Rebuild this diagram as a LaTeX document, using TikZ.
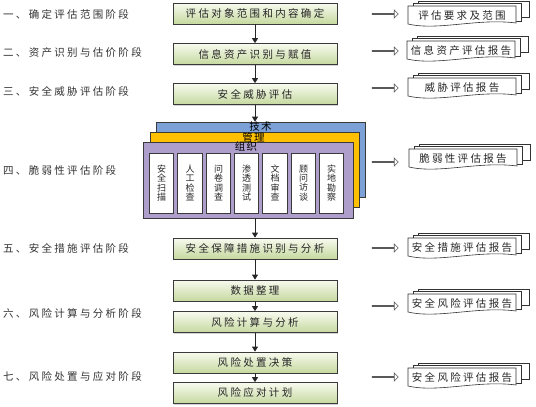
\documentclass[tikz,border=0pt]{standalone}
\usepackage{fontspec}
\setmainfont{Noto Sans CJK SC}
\usetikzlibrary{shapes.arrows,arrows.meta,shadows}

\definecolor{lineg}{HTML}{3A3A3A}
\definecolor{boxtop}{HTML}{F7FAEF}
\definecolor{boxbot}{HTML}{C6D99F}
\definecolor{techblue}{HTML}{7BA1D6}
\definecolor{mgmtorange}{HTML}{FFC000}
\definecolor{orgpurple}{HTML}{AD9ECB}

\newcommand\cnfont[1]{\fontsize{#1}{#1}\selectfont\addfontfeature{LetterSpace=22}}

\tikzset{
  x=1pt, y=-1pt,
  lbl/.style={anchor=west, font=\cnfont{10.5}, text=black!80, inner sep=0pt},
  stepbox/.style={draw=lineg, line width=0.7pt, top color=boxtop, bottom color=boxbot,
    minimum width=164pt, minimum height=21pt, inner sep=0pt, font=\cnfont{10.5},
    text=black!85,
    drop shadow={shadow xshift=1.2pt, shadow yshift=-1.2pt, opacity=0.35}},
  flow/.style={draw=black!85, line width=0.7pt, -{Triangle[length=5pt,width=6pt]}},
  hollow/.style={single arrow, draw=black!65, fill=white, line width=0.6pt,
    minimum height=26pt, minimum width=8pt, single arrow head extend=2.2pt,
    inner sep=0pt},
  layerbox/.style={draw=lineg, line width=0.6pt, inner sep=0pt},
  layerlbl/.style={font=\fontsize{10.5}{10.5}\selectfont\addfontfeature{LetterSpace=10}, inner sep=0pt},
  methodbox/.style={draw=lineg, line width=0.6pt, fill=white, minimum width=24.5pt,
    minimum height=60pt, inner sep=0pt, align=center, font=\fontsize{9}{9.2}\selectfont,
    text=black!85},
  docline/.style={draw=black!80, line width=0.6pt, fill=white},
  doctext/.style={font=\cnfont{10.5}, inner sep=0pt, text=black!85}
}

% name, x, y (top-left of the front page), text
\newcommand\mdoc[4]{%
  \begin{scope}[shift={(#2,#3)}]
    \filldraw[docline] (10,-5) rectangle (121,11);
    \filldraw[docline] (5,-3) rectangle (113,15);
    \filldraw[docline] (0,0) -- (108,0) -- (108,17)
      .. controls (70,12) and (30,25) .. (0,18) -- cycle;
    \node[doctext] (#1) at (54,9.5) {#4};
  \end{scope}}

\begin{document}
\begin{tikzpicture}
\useasboundingbox (0,0) rectangle (536,407);

% stage labels
\node[lbl] (l1) at (3,14)  {一、确定评估范围阶段};
\node[lbl] (l2) at (3,53)  {二、资产识别与估价阶段};
\node[lbl] (l3) at (3,91)  {三、安全威胁评估阶段};
\node[lbl] (l4) at (3,170) {四、脆弱性评估阶段};
\node[lbl] (l5) at (3,248) {五、安全措施评估阶段};
\node[lbl] (l6) at (3,313) {六、风险计算与分析阶段};
\node[lbl] (l7) at (3,377) {七、风险处置与应对阶段};

% main steps
\node[stepbox] (b1) at (255,13.5)  {评估对象范围和内容确定};
\node[stepbox] (b2) at (255,54)    {信息资产识别与赋值};
\node[stepbox] (b3) at (255,94)    {安全威胁评估};
\node[stepbox] (b5) at (255,248.5) {安全保障措施识别与分析};
\node[stepbox] (b6) at (255,290.5) {数据整理};
\node[stepbox] (b7) at (255,322)   {风险计算与分析};
\node[stepbox] (b8) at (255,362.5) {风险处置决策};
\node[stepbox] (b9) at (255,393)   {风险应对计划};

% stacked layers
\node[layerbox, fill=techblue, minimum width=209pt, minimum height=75pt] (tech) at (260.5,159.5) {};
\node[layerlbl] (techl) at (260.5,126.5) {技术};
\node[layerbox, fill=mgmtorange, minimum width=209pt, minimum height=75pt] (mgmt) at (254.5,169.5) {};
\node[layerlbl] (mgmtl) at (253.5,137) {管理};
\node[layerbox, fill=orgpurple, minimum width=210pt, minimum height=76pt] (org) at (248,180) {};
\node[layerlbl] (orgl) at (246,147) {组织};

\node[methodbox] (m1) at (161.5,183) {安\\全\\扫\\描};
\node[methodbox] (m2) at (190,183)   {人\\工\\检\\查};
\node[methodbox] (m3) at (218.5,183) {问\\卷\\调\\查};
\node[methodbox] (m4) at (246.5,183) {渗\\透\\测\\试};
\node[methodbox] (m5) at (275,183)   {文\\档\\审\\查};
\node[methodbox] (m6) at (303.5,183) {顾\\问\\访\\谈};
\node[methodbox] (m7) at (331.5,183) {实\\地\\勘\\察};

% flow arrows
\draw[flow] (b1.south) -- (b2.north);
\draw[flow] (b2.south) -- (b3.north);
\draw[flow] (b3.south) -- (b3.south |- tech.north);
\draw[flow] (b5.north |- org.south) -- (b5.north);
\draw[flow] (b5.south) -- (b6.north);
\draw[flow] (b6.south) -- (b7.north);
\draw[flow] (b7.south) -- (b8.north);
\draw[flow] (b8.south) -- (b9.north);

% hollow arrows
\node[hollow] (h1) at (385,14)  {};
\node[hollow] (h2) at (385,51)  {};
\node[hollow] (h3) at (385,88)  {};
\node[hollow] (h4) at (385,162) {};
\node[hollow] (h5) at (385,248) {};
\node[hollow] (h6) at (385,306) {};
\node[hollow] (h7) at (385,377) {};

% documents
\mdoc{d1}{408}{6}{评估要求及范围}
\mdoc{d2}{407}{41}{信息资产评估报告}
\mdoc{d3}{408}{78}{威胁评估报告}
\mdoc{d4}{409}{149}{脆弱性评估报告}
\mdoc{d5}{408}{238}{安全措施评估报告}
\mdoc{d6}{408}{294}{安全风险评估报告}
\mdoc{d7}{408}{368}{安全风险评估报告}
\end{tikzpicture}
\end{document}
